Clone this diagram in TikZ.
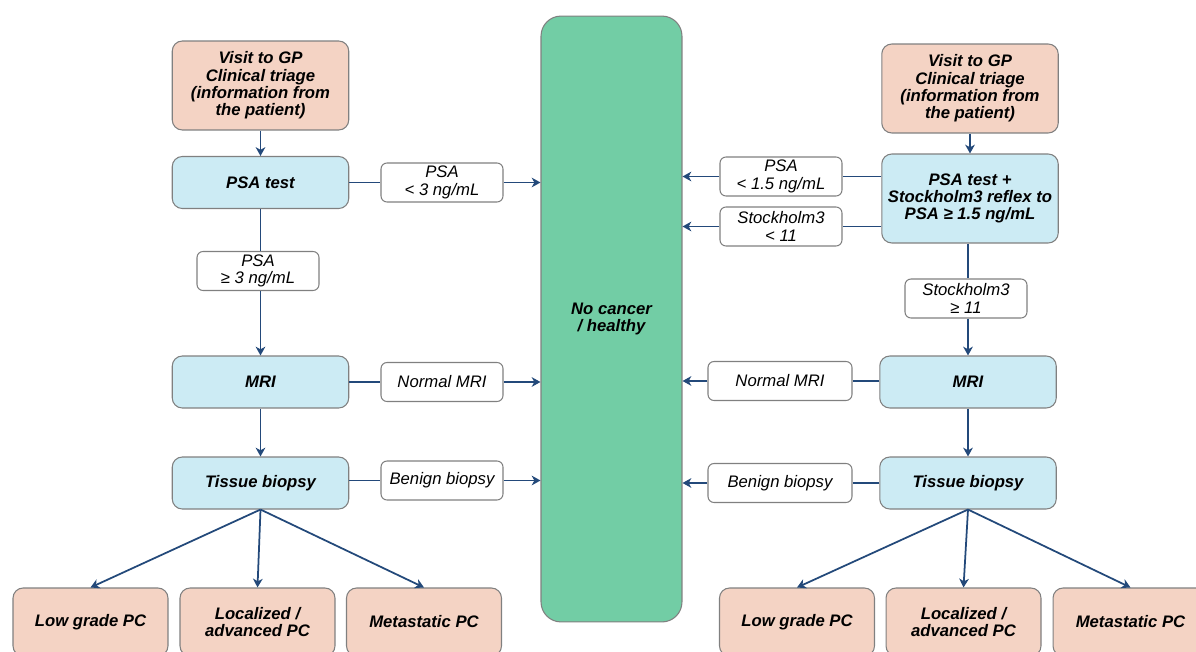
\documentclass[tikz,border=0pt]{standalone}
\usepackage{fontspec}
\setmainfont{Liberation Sans}
\usetikzlibrary{arrows.meta}
\definecolor{peach}{HTML}{F4D3C4}
\definecolor{skyblue}{HTML}{CCEBF4}
\definecolor{mint}{HTML}{72CDA5}
\definecolor{navy}{HTML}{23497A}
\definecolor{edge}{HTML}{808080}
\begin{document}
\begin{tikzpicture}[x=0.02cm,y=-0.02cm,
        box/.style={draw=edge,line width=0.6pt,rounded corners=0.2cm,align=center,inner sep=0pt,
            font=\fontsize{9.5}{9.8}\selectfont\bfseries\itshape},
        visit/.style={box,fill=peach,minimum width=3.53cm,minimum height=1.78cm},
        test/.style={box,fill=skyblue,minimum width=3.53cm,minimum height=1.04cm},
        outcome/.style={box,fill=peach,minimum width=3.1cm,minimum height=1.36cm},
        lbl/.style={draw=edge,line width=0.6pt,fill=white,rounded corners=0.12cm,align=center,inner sep=0pt,
            minimum width=2.44cm,minimum height=0.78cm,font=\fontsize{9.5}{9.8}\selectfont\itshape},
        arr/.style={draw=navy,line width=1pt},
        tip/.style={arr,-{Stealth[length=5pt,width=5.5pt,inset=1.5pt]}}
    ]
        \useasboundingbox (0,0) rectangle (1196,652);
        \clip (0,0) rectangle (1196,652);

        % middle
        \node[box,fill=mint,rounded corners=0.4cm,minimum width=2.82cm,minimum height=12.12cm] (healthy) at (611.5,319) {No cancer\\ / healthy};

        % left pathway
        \node[visit] (visitL) at (260.5,85.5) {Visit to GP\\ Clinical triage\\ (information from\\ the patient)};
        \node[test] (psaL) at (260.5,182.5) {PSA test};
        \node[test] (mriL) at (260.5,382) {MRI};
        \node[test] (bioL) at (260.5,483) {Tissue biopsy};
        \node[lbl] (psaLow) at (442,182.5) {PSA\\ < 3 ng/mL};
        \node[lbl] (psaHigh) at (258,271) {PSA\\ ≥ 3 ng/mL};
        \node[lbl] (mriNormL) at (442,382) {Normal MRI};
        \node[lbl] (benignL) at (442,480.5) {Benign biopsy};
        \node[outcome] (lowL) at (90.5,622) {Low grade PC};
        \node[outcome] (locL) at (257.5,622) {Localized /\\ advanced PC};
        \node[outcome] (metL) at (424,622) {Metastatic PC};

        \draw[tip] (visitL) -- (psaL);
        \draw[arr] (psaL) -- (psaLow);
        \draw[tip] (psaLow) -- (healthy.west |- psaLow.east);
        \draw[arr] (psaL) -- (psaL.south |- psaHigh.north);
        \draw[tip] (psaL.south |- psaHigh.south) -- (mriL);
        \draw[arr] (mriL) -- (mriNormL);
        \draw[tip] (mriNormL) -- (healthy.west |- mriNormL.east);
        \draw[tip] (mriL) -- (bioL);
        \draw[arr] (bioL.east |- benignL.west) -- (benignL);
        \draw[tip] (benignL) -- (healthy.west |- benignL.east);
        \draw[tip] (bioL.south) -- (lowL.north);
        \draw[tip] (bioL.south) -- (locL.north);
        \draw[tip] (bioL.south) -- (metL.north);

        % right pathway
        \node[visit] (visitR) at (970,88.5) {Visit to GP\\ Clinical triage\\ (information from\\ the patient)};
        \node[test,minimum height=1.78cm] (psaR) at (970,198.5) {PSA test +\\ Stockholm3 reflex to\\ PSA ≥ 1.5 ng/mL};
        \node[test] (mriR) at (968,382) {MRI};
        \node[test] (bioR) at (968,483) {Tissue biopsy};
        \node[lbl] (psaLowR) at (781,176.5) {PSA\\ < 1.5 ng/mL};
        \node[lbl] (sthlmLow) at (781,226.5) {Stockholm3\\ < 11};
        \node[lbl] (sthlmHigh) at (966,298.5) {Stockholm3\\ ≥ 11};
        \node[lbl,minimum width=2.88cm] (mriNormR) at (780,381) {Normal MRI};
        \node[lbl,minimum width=2.88cm] (benignR) at (780,483) {Benign biopsy};
        \node[outcome] (lowR) at (797,622) {Low grade PC};
        \node[outcome] (locR) at (963.5,622) {Localized /\\ advanced PC};
        \node[outcome] (metR) at (1130.5,622) {Metastatic PC};

        \draw[tip] (visitR) -- (psaR);
        \draw[arr] (psaR.west |- psaLowR.east) -- (psaLowR);
        \draw[tip] (psaLowR) -- (healthy.east |- psaLowR.west);
        \draw[arr] (psaR.west |- sthlmLow.east) -- (sthlmLow);
        \draw[tip] (sthlmLow) -- (healthy.east |- sthlmLow.west);
        \draw[arr] (psaR.south -| mriR.north) -- (mriR.north |- sthlmHigh.north);
        \draw[tip] (mriR.north |- sthlmHigh.south) -- (mriR);
        \draw[arr] (mriR.west |- mriNormR.east) -- (mriNormR);
        \draw[tip] (mriNormR) -- (healthy.east |- mriNormR.west);
        \draw[tip] (mriR) -- (bioR);
        \draw[arr] (bioR) -- (benignR);
        \draw[tip] (benignR) -- (healthy.east |- benignR.west);
        \draw[tip] (bioR.south) -- (lowR.north);
        \draw[tip] (bioR.south) -- (locR.north);
        \draw[tip] (bioR.south) -- (metR.north);
    \end{tikzpicture}
\end{document}
